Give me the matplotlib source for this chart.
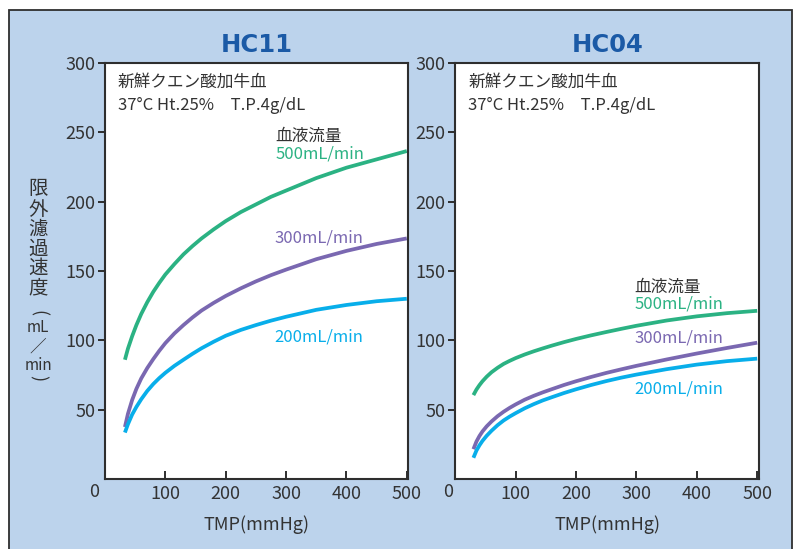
import matplotlib
matplotlib.use("Agg")
import matplotlib.pyplot as plt
from matplotlib.patches import Rectangle

plt.rcParams['font.family'] = ['Noto Sans CJK JP', 'DejaVu Sans']

# TMP (mmHg) positions where the curves were read
tmp_hc11 = [33, 38, 45, 52, 60, 70, 80, 90, 100, 115, 130, 145, 160, 180,
            200, 225, 250, 275, 300, 350, 400, 450, 500]
tmp_hc04 = [30, 35, 40, 45, 52, 60, 70, 80, 90, 100, 115, 130, 145, 160, 180,
            200, 225, 250, 275, 300, 350, 400, 450, 500]

# ultrafiltration rate (mL/min), HC11, by blood flow
hc11_qb500 = [86, 94, 103, 111, 119, 127.5, 135, 141.5, 147.5, 155, 162, 168,
              173.5, 180, 186, 192.5, 198, 203.5, 208, 217, 224.5, 230.5, 236.5]
hc11_qb300 = [37.5, 47, 57, 65, 72.5, 80, 86.5, 92.5, 98, 105, 111, 116.5,
              121.5, 127, 132, 137.5, 142.5, 147, 151, 158.5, 164.5, 169.5, 173.5]
hc11_qb200 = [33.5, 39.5, 46.5, 52, 57.5, 63.5, 68.5, 72.8, 76.6, 81.6, 86,
              90.3, 94.3, 99, 103.3, 107.5, 111, 114.2, 117, 122, 125.5, 128.2, 130]

# ultrafiltration rate (mL/min), HC04, by blood flow
hc04_qb500 = [60.5, 64.5, 67.7, 70.5, 73.8, 77, 80.2, 83, 85.2, 87.2, 89.8,
              92.1, 94.2, 96.2, 98.7, 101, 103.6, 106, 108.3, 110.5, 114.3,
              117.3, 119.6, 121.3]
hc04_qb300 = [21.5, 27, 31, 34.3, 38, 41.5, 45.3, 48.5, 51.3, 53.8, 57.2, 60,
              62.5, 64.8, 67.8, 70.5, 73.6, 76.5, 79.1, 81.6, 86.2, 90.5, 94.5,
              98.3]
hc04_qb200 = [15.3, 20.5, 24.3, 27.5, 31.2, 34.8, 38.8, 42.2, 45, 47.5, 51, 54,
              56.7, 59, 62, 64.7, 67.8, 70.6, 73.1, 75.3, 79.2, 82.5, 85, 86.8]

flow_labels = ["500mL/min", "300mL/min", "200mL/min"]
x_ticks = [100, 200, 300, 400, 500]
y_ticks = [50, 100, 150, 200, 250, 300]

GREEN = "#2bb283"
PURPLE = "#7a68b1"
BLUE = "#08aeea"
TEXT = "#333333"
TITLE = "#1b5aa6"
PANEL = "#bcd3ec"

W, H = 796, 549
fig = plt.figure(figsize=(W / 100, H / 100), dpi=100)
fig.patch.set_facecolor("white")

# light blue backing panel with dark frame
fig.add_artist(Rectangle((9 / W, -0.02), (792 - 9) / W, (549 - 10) / H + 0.02,
                         transform=fig.transFigure, facecolor=PANEL,
                         edgecolor="#2e2e2e", linewidth=1.3, zorder=0))


def px_box(x0, x1, y_top, y_bot):
    return [x0 / W, 1 - y_bot / H, (x1 - x0) / W, (y_bot - y_top) / H]


def setup_axes(ax, xmax):
    ax.set_xlim(0, xmax)
    ax.set_ylim(0, 300)
    ax.set_facecolor("white")
    for sp in ax.spines.values():
        sp.set_color("#2e2e2e")
        sp.set_linewidth(1.5)
    ax.set_xticks(x_ticks)
    ax.set_yticks(y_ticks)
    ax.tick_params(axis="x", direction="in", length=6, width=1.4,
                   color="#2e2e2e", labelsize=13, labelcolor=TEXT, pad=4)
    ax.tick_params(axis="y", direction="out", length=5, width=1.4,
                   color="#2e2e2e", labelsize=13, labelcolor=TEXT, pad=2)
    ax.set_xlabel("TMP(mmHg)", fontsize=13, color=TEXT, labelpad=9)


panels = [
    ("HC11", px_box(105, 408, 63, 479), 502, tmp_hc11,
     [hc11_qb500, hc11_qb300, hc11_qb200],
     [(282, 234.7), (280.7, 173.8), (280.7, 102.2)], (282, 247)),
    ("HC04", px_box(455.3, 759, 63, 479), 503, tmp_hc04,
     [hc04_qb500, hc04_qb300, hc04_qb200],
     [(296.5, 126.3), (296.5, 101.5), (296.5, 65)], (296.5, 138.2)),
]

colors = [GREEN, PURPLE, BLUE]

for name, box, xmax, tmp, series, label_pos, head_pos in panels:
    ax = fig.add_axes(box)
    setup_axes(ax, xmax)
    ax.set_title(name, fontsize=17.5, fontweight="bold", color=TITLE, pad=8,
                 family=["DejaVu Sans"])
    for vals, col in zip(series, colors):
        ax.plot(tmp, vals, color=col, linewidth=2.7, solid_capstyle="butt",
                solid_joinstyle="round")
    for (lx, ly), lab, col in zip(label_pos, flow_labels, colors):
        ax.text(lx, ly, lab, color=col, fontsize=12, ha="left", va="center")
    ax.text(head_pos[0], head_pos[1], "血液流量", color=TEXT, fontsize=12,
            ha="left", va="center")
    ax.text(21.5, 286, "新鮮クエン酸加牛血", color=TEXT, fontsize=12,
            ha="left", va="center")
    ax.text(21.5, 269, "37°C Ht.25%　T.P.4g/dL", color=TEXT, fontsize=12,
            ha="left", va="center")

# shared origin labels
for x0 in (94, 447.7):
    fig.text(x0 / W, 1 - 492 / H, "0", fontsize=13, color=TEXT,
             ha="center", va="center")

# vertical y-axis label
ylab_x = 38 / W
for ch, yy in zip("限外濾過速度", [188, 209, 229, 249, 268, 288]):
    fig.text(ylab_x, 1 - yy / H, ch, fontsize=14, color=TEXT,
             ha="center", va="center")
fig.text(ylab_x, 1 - 313 / H, "(", fontsize=13, color=TEXT, rotation=-90,
         ha="center", va="center")
fig.text(ylab_x, 1 - 327 / H, "mL", fontsize=11, color=TEXT,
         ha="center", va="center")
fig.text(ylab_x, 1 - 347 / H, "／", fontsize=12, color=TEXT,
         ha="center", va="center")
fig.text(ylab_x, 1 - 366 / H, "min", fontsize=11, color=TEXT,
         ha="center", va="center")
fig.text(ylab_x, 1 - 378 / H, ")", fontsize=13, color=TEXT, rotation=-90,
         ha="center", va="center")

fig.savefig("out.png", dpi=100, facecolor=fig.get_facecolor())
